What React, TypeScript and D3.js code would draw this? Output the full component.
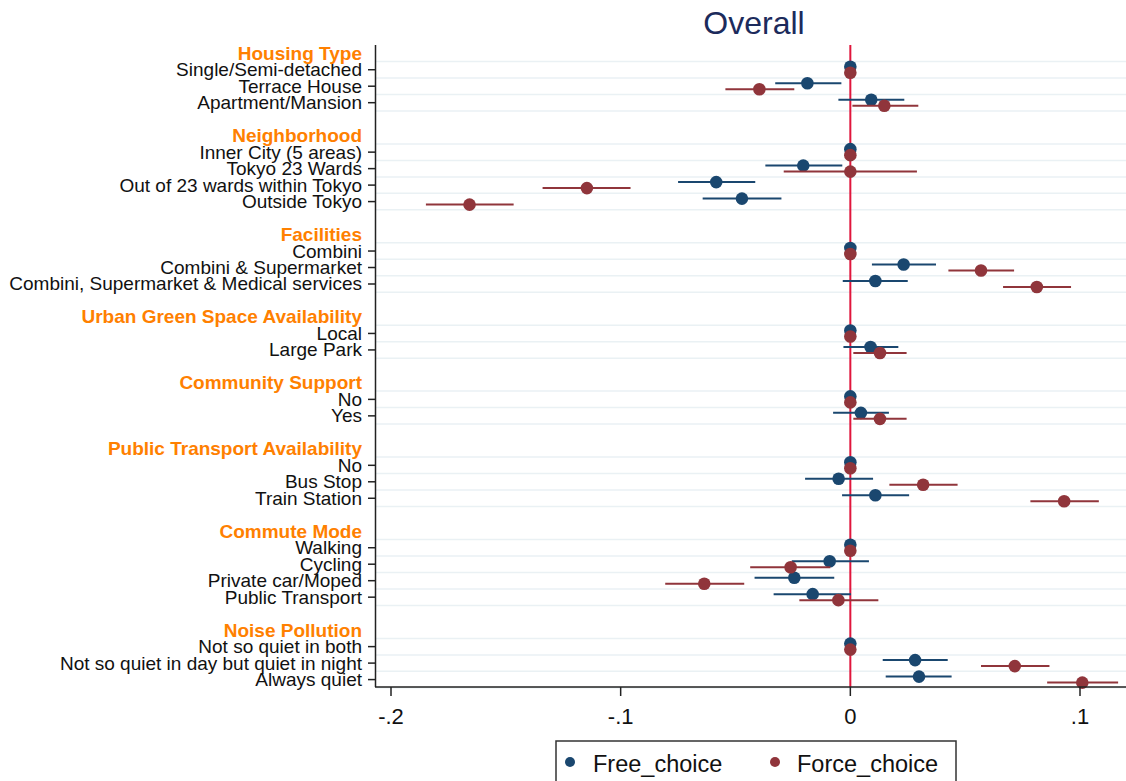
import React from "react";
import * as d3 from "d3";

const groups = [
  "Housing Type",
  "Neighborhood",
  "Facilities",
  "Urban Green Space Availability",
  "Community Support",
  "Public Transport Availability",
  "Commute Mode",
  "Noise Pollution",
];

const labels = [
  "Single/Semi-detached", "Terrace House", "Apartment/Mansion",
  "Inner City (5 areas)", "Tokyo 23 Wards", "Out of 23 wards within Tokyo", "Outside Tokyo",
  "Combini", "Combini & Supermarket", "Combini, Supermarket & Medical services",
  "Local", "Large Park",
  "No", "Yes",
  "No", "Bus Stop", "Train Station",
  "Walking", "Cycling", "Private car/Moped", "Public Transport",
  "Not so quiet in both", "Not so quiet in day but quiet in night", "Always quiet",
];

const groupOf = [0, 0, 0, 1, 1, 1, 1, 2, 2, 2, 3, 3, 4, 4, 5, 5, 5, 6, 6, 6, 6, 7, 7, 7];

const freeCoef = [0, -0.0187, 0.0091, 0, -0.0205, -0.0584, -0.0472, 0, 0.0232, 0.0109, 0, 0.0088, 0, 0.0046, 0, -0.0051, 0.0109, 0, -0.009, -0.0244, -0.0164, 0, 0.0282, 0.0299];
const freeLo = [null, -0.0327, -0.0052, null, -0.037, -0.075, -0.0643, null, 0.0094, -0.0033, null, -0.003, null, -0.0075, null, -0.0197, -0.0036, null, -0.0255, -0.0417, -0.0334, null, 0.0141, 0.0154];
const freeHi = [null, -0.0039, 0.0235, null, -0.0035, -0.0414, -0.030, null, 0.0373, 0.025, null, 0.0209, null, 0.0168, null, 0.0099, 0.0256, null, 0.0081, -0.007, 0.0003, null, 0.0424, 0.0441];

const forceCoef = [0, -0.0396, 0.0148, 0, 0, -0.1147, -0.1658, 0, 0.0569, 0.0812, 0, 0.0129, 0, 0.0129, 0, 0.0317, 0.0931, 0, -0.026, -0.0636, -0.0052, 0, 0.0716, 0.101];
const forceLo = [null, -0.0544, 0.0009, null, -0.029, -0.134, -0.1848, null, 0.0427, 0.0665, null, 0.0013, null, 0.0013, null, 0.017, 0.0784, null, -0.0436, -0.0806, -0.0222, null, 0.0569, 0.0857];
const forceHi = [null, -0.0244, 0.0296, null, 0.029, -0.0957, -0.1466, null, 0.0713, 0.0961, null, 0.0245, null, 0.0245, null, 0.0467, 0.1082, null, -0.0087, -0.0462, 0.0122, null, 0.0867, 0.1166];

const xTicks = [-0.2, -0.1, 0, 0.1];
const xTickLabels = ["-.2", "-.1", "0", ".1"];

const seriesNames = ["Free_choice", "Force_choice"];
const seriesColors = ["#1a476f", "#90353b"];

const FONT = "'Liberation Sans', Arial, Helvetica, sans-serif";

export default function App() {
  const W = 1126;
  const H = 781;
  const left = 376;
  const right = 1126;
  const top = 45;
  const bottom = 687;

  // compute rows
  const headerRows: { name: string; row: number }[] = [];
  const itemRows: number[] = [];
  let r = 0;
  groups.forEach((g, gi) => {
    headerRows.push({ name: g, row: r });
    r += 1;
    labels.forEach((_, i) => {
      if (groupOf[i] === gi) {
        itemRows[i] = r;
        r += 1;
      }
    });
    r += 1;
  });
  const lastRow = r - 2;

  const x = d3.scaleLinear().domain([-0.2, 0.1]).range([391, 1080]);
  const y = d3.scaleLinear().domain([-0.5, lastRow + 0.45]).range([top, bottom]);
  const off = 3;

  const gridYs: number[] = [];
  itemRows.forEach((row) => {
    gridYs.push(y(row - 0.5));
    gridYs.push(y(row + 0.5));
  });
  const uniqGrid = Array.from(new Set(gridYs.map((v) => Math.round(v * 10) / 10)));

  const series = [
    { coef: freeCoef, lo: freeLo, hi: freeHi, dy: -off },
    { coef: forceCoef, lo: forceLo, hi: forceHi, dy: off },
  ];

  return (
    <svg
      width={W}
      height={H}
      style={{ position: "absolute", left: 0, top: 0, background: "#fff" }}
      fontFamily={FONT}
    >
      <rect x={0} y={0} width={W} height={H} fill="#fff" />
      <text x={(left + right) / 2 + 3} y={34} textAnchor="middle" fontSize={32} fill="#1c2b5c">
        Overall
      </text>

      {/* gridlines */}
      {uniqGrid.map((gy, i) => (
        <line key={"g" + i} x1={left} x2={right} y1={gy} y2={gy} stroke="#eaf1f4" strokeWidth={1.5} />
      ))}

      {/* zero line */}
      <line x1={x(0)} x2={x(0)} y1={top} y2={bottom} stroke="#e0163c" strokeWidth={2} />

      {/* CIs and points */}
      {series.map((s, si) => (
        <g key={"s" + si}>
          {s.coef.map((c, i) => {
            const yy = y(itemRows[i]) + s.dy;
            const lo = s.lo[i];
            const hi = s.hi[i];
            return (
              <g key={i}>
                {lo !== null && hi !== null && (
                  <line x1={x(lo)} x2={x(hi)} y1={yy} y2={yy} stroke={seriesColors[si]} strokeWidth={2} />
                )}
                <circle cx={x(c)} cy={yy} r={6.3} fill={seriesColors[si]} />
              </g>
            );
          })}
        </g>
      ))}

      {/* y axis */}
      <line x1={left - 0.5} x2={left - 0.5} y1={top} y2={bottom} stroke="#222" strokeWidth={1.5} />
      {itemRows.map((row, i) => (
        <g key={"yt" + i}>
          <line x1={left - 8} x2={left} y1={y(row)} y2={y(row)} stroke="#222" strokeWidth={1.5} />
          <text x={362} y={y(row) + 6.5} textAnchor="end" fontSize={19} fill="#111">
            {labels[i]}
          </text>
        </g>
      ))}
      {headerRows.map((h, i) => (
        <text key={"h" + i} x={362} y={y(h.row) + 6.5} textAnchor="end" fontSize={19} fontWeight="bold" fill="#ff8000">
          {h.name}
        </text>
      ))}

      {/* x axis */}
      <line x1={left - 1} x2={right} y1={bottom} y2={bottom} stroke="#222" strokeWidth={1.5} />
      {xTicks.map((t, i) => (
        <g key={"xt" + i}>
          <line x1={x(t)} x2={x(t)} y1={bottom} y2={bottom + 9} stroke="#222" strokeWidth={1.5} />
          <text x={x(t)} y={724} textAnchor="middle" fontSize={22} fill="#111">
            {xTickLabels[i]}
          </text>
        </g>
      ))}

      {/* legend */}
      <rect x={556} y={741} width={400} height={60} fill="#fff" stroke="#333" strokeWidth={1.5} />
      {seriesNames.map((n, i) => (
        <g key={"l" + i}>
          <circle cx={i === 0 ? 570 : 775} cy={762} r={5} fill={seriesColors[i]} />
          <text x={i === 0 ? 593 : 797} y={771.5} fontSize={23.5} fill="#111">
            {n}
          </text>
        </g>
      ))}
    </svg>
  );
}
